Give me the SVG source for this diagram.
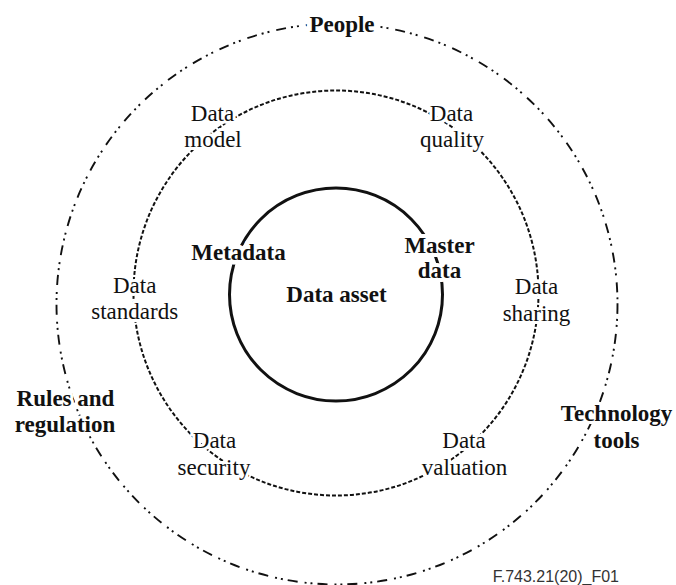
<svg xmlns="http://www.w3.org/2000/svg" width="676" height="585" viewBox="0 0 676 585">
  <style>
    .ring { fill: none; stroke: #111; }
    .outer { stroke-width: 1.9; stroke-dasharray: 10 5 2 4 2 7; }
    .middle { stroke-width: 2; stroke-dasharray: 4 2; }
    .inner { stroke-width: 3; }
    .lbl { font-family: "Liberation Serif", "Times New Roman", serif; font-size: 23px; text-anchor: middle;
           fill: #111; stroke: #fff; stroke-width: 6; stroke-linejoin: round; paint-order: stroke; }
    .b { font-weight: bold; }
    .ref { font-family: "Liberation Sans", Arial, sans-serif; font-size: 16px; fill: #333; text-anchor: end; }
  </style>
  <rect width="676" height="585" fill="#fff"/>

  <!-- concentric rings -->
  <g id="connectors">
    <circle class="ring outer" cx="337" cy="304" r="280.5"/>
    <circle class="ring middle" cx="336" cy="293" r="202.5"/>
    <circle class="ring inner" cx="336" cy="294.5" r="106.5"/>
  </g>

  <g id="people"><text class="lbl b" x="342" y="32" style="stroke-width:10">People</text></g>
  <g id="data-model"><text class="lbl" x="212.5" y="121">Data</text><text class="lbl" x="213" y="147">model</text></g>
  <g id="data-quality"><text class="lbl" x="451.5" y="121">Data</text><text class="lbl" x="452" y="147">quality</text></g>
  <g id="metadata"><text class="lbl b" x="238.5" y="260" style="stroke-width:9">Metadata</text></g>
  <g id="master-data"><text class="lbl b" x="439.5" y="253" style="stroke-width:8">Master</text><text class="lbl b" x="439.5" y="278" style="stroke-width:8">data</text></g>
  <g id="data-asset"><text class="lbl b" x="336.5" y="302">Data asset</text></g>
  <g id="data-standards"><text class="lbl" x="134.7" y="293">Data</text><text class="lbl" x="134.7" y="319">standards</text></g>
  <g id="data-sharing"><text class="lbl" x="536.5" y="294">Data</text><text class="lbl" x="536.5" y="321">sharing</text></g>
  <g id="rules-regulation"><text class="lbl b" x="65.5" y="406">Rules and</text><text class="lbl b" x="65" y="432">regulation</text></g>
  <g id="technology-tools"><text class="lbl b" x="616.5" y="421">Technology</text><text class="lbl b" x="616.5" y="448">tools</text></g>
  <g id="data-security"><text class="lbl" x="214.5" y="448">Data</text><text class="lbl" x="214" y="475">security</text></g>
  <g id="data-valuation"><text class="lbl" x="464" y="448">Data</text><text class="lbl" x="464.5" y="475">valuation</text></g>

  <text class="ref" x="619" y="582">F.743.21(20)_F01</text>
</svg>
